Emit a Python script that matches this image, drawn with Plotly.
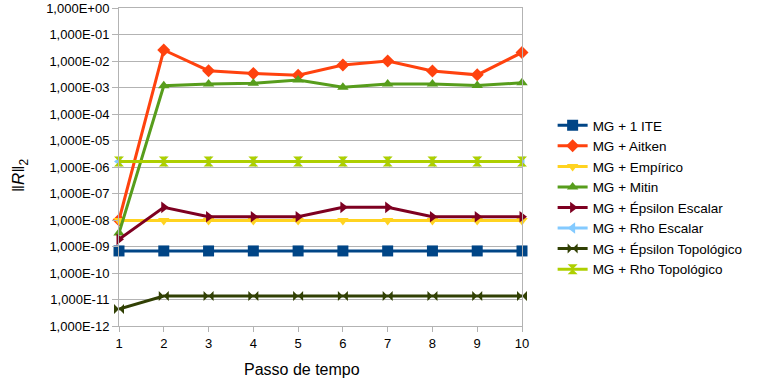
import plotly.graph_objects as go

steps = [1, 2, 3, 4, 5, 6, 7, 8, 9, 10]

mg_1ite = [6.8e-10] * 10
mg_aitken = [1.0e-8, 2.6e-2, 4.3e-3, 3.4e-3, 2.9e-3, 7.1e-3, 1.0e-2, 4.2e-3, 3.0e-3, 2.1e-2]
mg_empirico = [9.5e-9] * 10
mg_mitin = [3.2e-9, 1.17e-3, 1.35e-3, 1.44e-3, 1.9e-3, 1.02e-3, 1.35e-3, 1.35e-3, 1.2e-3, 1.5e-3]
mg_eps_escalar = [1.86e-9, 3.0e-8, 1.33e-8, 1.33e-8, 1.33e-8, 3.0e-8, 3.0e-8, 1.33e-8, 1.33e-8, 1.33e-8]
mg_rho_escalar = [1.6e-6] * 10
mg_eps_topologico = [4.4e-12] + [1.35e-11] * 9
mg_rho_topologico = [1.6e-6] * 10

series_names = ["MG + 1 ITE", "MG + Aitken", "MG + Empírico", "MG + Mitin",
                "MG + Épsilon Escalar", "MG + Rho Escalar",
                "MG + Épsilon Topológico", "MG + Rho Topológico"]
series_values = [mg_1ite, mg_aitken, mg_empirico, mg_mitin,
                 mg_eps_escalar, mg_rho_escalar, mg_eps_topologico, mg_rho_topologico]
colors = ["#004586", "#ff420e", "#ffd320", "#579d1c", "#7e0021", "#83caff", "#314004", "#aecf00"]
symbols = ["square", "diamond", "triangle-down", "triangle-up", "triangle-right",
           "triangle-left", "bowtie", "hourglass"]
sizes = [11, 10, 10, 10, 10, 10, 10, 10]

ytick_exps = list(range(0, -13, -1))
ytick_vals = [10.0 ** e for e in ytick_exps]
ytick_text = ["1,000E+00" if e == 0 else "1,000E-%02d" % (-e) for e in ytick_exps]

x_title = "Passo de tempo"
y_title = "‖<i>R</i>‖<sub>2</sub>"

fig = go.Figure()
for name, vals, c, s, sz in zip(series_names, series_values, colors, symbols, sizes):
    fig.add_trace(go.Scatter(
        x=steps, y=vals, name=name, mode="lines+markers",
        line=dict(color=c, width=3),
        marker=dict(color=c, symbol=s, size=sz, line=dict(width=0)),
        cliponaxis=False,
    ))

fig.update_layout(
    width=764, height=385,
    margin=dict(l=119, r=242, t=8, b=59),
    paper_bgcolor="white", plot_bgcolor="white",
    font=dict(family="Liberation Sans, Arial, sans-serif", size=13, color="#000000"),
    showlegend=True,
    legend=dict(x=1.076, xanchor="left", y=0.404, yanchor="middle",
                font=dict(size=13.5), itemwidth=30, tracegroupgap=0,
                bgcolor="rgba(0,0,0,0)"),
    annotations=[
        dict(text=x_title, xref="paper", yref="paper", x=0.454, y=-0.138,
             xanchor="center", yanchor="middle", showarrow=False,
             font=dict(size=16)),
        dict(text=y_title, xref="paper", yref="paper", x=-0.2457, y=0.475,
             xanchor="center", yanchor="middle", showarrow=False, textangle=-90,
             font=dict(size=17)),
    ],
)
fig.update_xaxes(
    range=[1, 10], tickvals=steps, ticktext=[str(v) for v in steps],
    showgrid=False, showline=True, linecolor="#b3b3b3", linewidth=1, mirror=True,
    ticks="outside", ticklen=5, tickcolor="#b3b3b3",
    tickfont=dict(size=13), automargin=False,
    zeroline=False,
)
fig.update_yaxes(
    type="log", range=[-12, 0], tickvals=ytick_vals, ticktext=ytick_text,
    showgrid=True, gridcolor="#b3b3b3", gridwidth=1,
    showline=True, linecolor="#b3b3b3", linewidth=1, mirror=True,
    ticks="outside", ticklen=6, tickcolor="#b3b3b3",
    tickfont=dict(size=13), automargin=False,
    zeroline=False,
)

fig.write_html("out.html", config={"displayModeBar": False},
               post_script="document.body.style.margin='0';")
